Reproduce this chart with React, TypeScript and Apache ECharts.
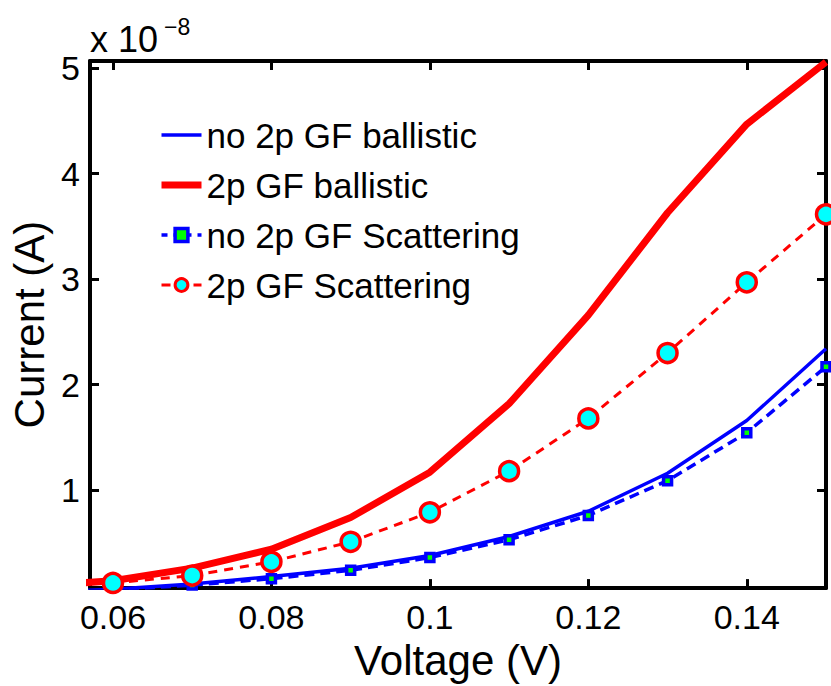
import React, { useEffect, useRef } from "react";
import * as echarts from "echarts";

// Voltage (V)
const voltsBallistic = [0.05, 0.06, 0.07, 0.08, 0.09, 0.1, 0.11, 0.12, 0.13, 0.14, 0.15];
const voltsScattering = [0.06, 0.07, 0.08, 0.09, 0.1, 0.11, 0.12, 0.13, 0.14, 0.15];

// Current in units of 1e-8 A
const noGfBallistic = [0.03, 0.06, 0.11, 0.18, 0.26, 0.38, 0.56, 0.8, 1.16, 1.66, 2.34];
const gfBallistic = [0.09, 0.14, 0.26, 0.44, 0.74, 1.17, 1.82, 2.66, 3.63, 4.47, 5.06];
const noGfScattering = [0.05, 0.1, 0.16, 0.24, 0.36, 0.53, 0.76, 1.09, 1.545, 2.17];
const gfScattering = [0.12, 0.19, 0.32, 0.51, 0.79, 1.18, 1.68, 2.3, 2.97, 3.615];

const seriesNames = [
  "no 2p GF ballistic",
  "2p GF ballistic",
  "no 2p GF Scattering",
  "2p GF Scattering",
];

const xRange = [0.0571, 0.15];
const yRange = [0.071, 5.069];

const pair = (xs: number[], ys: number[]) => xs.map((x, i) => [x, ys[i]]);

const FONT = "'Liberation Sans', Arial, Helvetica, sans-serif";

export default function App() {
  const ref = useRef<HTMLDivElement>(null);
  useEffect(() => {
    if (!ref.current) return;
    const chart = echarts.init(ref.current, null, { renderer: "svg" });
    const axisLine = { show: true, onZero: false, lineStyle: { color: "#000", width: 4 } };
    const axisTick = { show: true, inside: true, length: 9, lineStyle: { color: "#000", width: 3 } };
    const baseX = {
      type: "value" as const,
      min: xRange[0],
      max: xRange[1],
      minInterval: 0.02,
      maxInterval: 0.02,
      splitNumber: 5,
      axisLine,
      axisTick,
      splitLine: { show: false },
    };
    const baseY = {
      type: "value" as const,
      min: yRange[0],
      max: yRange[1],
      minInterval: 1,
      maxInterval: 1,
      splitNumber: 5,
      axisLine,
      axisTick,
      splitLine: { show: false },
    };
    chart.setOption({
      animation: false,
      backgroundColor: "#fff",
      textStyle: { fontFamily: FONT },
      grid: { left: 90, right: 5, top: 61, bottom: 94, containLabel: false },
      xAxis: [
        {
          ...baseX,
          position: "bottom",
          axisLabel: {
            showMinLabel: false,
            showMaxLabel: false,
            fontSize: 34,
            color: "#000",
            margin: 12,
            fontFamily: FONT,
          },
          name: "Voltage (V)",
          nameLocation: "middle",
          nameGap: 36,
          nameTextStyle: { fontSize: 42, color: "#000", fontFamily: FONT },
        },
        { ...baseX, position: "top", axisLabel: { show: false } },
      ],
      yAxis: [
        {
          ...baseY,
          position: "left",
          axisLabel: {
            showMinLabel: false,
            showMaxLabel: false,
            fontSize: 34,
            color: "#000",
            margin: 10,
            fontFamily: FONT,
          },
          name: "Current (A)",
          nameLocation: "middle",
          nameGap: 32,
          nameTextStyle: { fontSize: 42, color: "#000", fontFamily: FONT },
        },
        { ...baseY, position: "right", axisLabel: { show: false } },
      ],
      legend: {
        orient: "vertical",
        left: 158,
        top: 114,
        padding: 0,
        itemWidth: 40,
        itemHeight: 16,
        itemGap: 8,
        data: [
          { name: seriesNames[0], itemStyle: { opacity: 0 }, lineStyle: { width: 3.5, color: "#0000ff" } },
          { name: seriesNames[1], itemStyle: { opacity: 0 }, lineStyle: { width: 7, color: "#ff0000" } },
          {
            name: seriesNames[2],
            itemStyle: { borderWidth: 3.5, borderColor: "#0000ff", color: "#00ff00" },
            lineStyle: { width: 3.5, color: "#0000ff", type: [6, 6] },
          },
          {
            name: seriesNames[3],
            itemStyle: { borderWidth: 3, borderColor: "#ff0000", color: "#00ffff" },
            lineStyle: { width: 3, color: "#ff0000" },
          },
        ],
        textStyle: { fontSize: 35, color: "#000", lineHeight: 42, fontFamily: FONT },
      },
      graphic: [
        {
          type: "text",
          left: 90,
          top: 21,
          style: { text: "x 10", fontSize: 36, fill: "#000", fontFamily: FONT },
        },
        {
          type: "text",
          left: 164,
          top: 15,
          style: { text: "\u22128", fontSize: 23, fill: "#000", fontFamily: FONT },
        },
      ],
      series: [
        {
          name: seriesNames[0],
          type: "line",
          data: pair(voltsBallistic, noGfBallistic),
          symbol: "none",
          clip: true,
          lineStyle: { color: "#0000ff", width: 3.5 },
          itemStyle: { color: "#0000ff" },
        },
        {
          name: seriesNames[1],
          type: "line",
          data: pair(voltsBallistic, gfBallistic),
          symbol: "none",
          clip: true,
          lineStyle: { color: "#ff0000", width: 7 },
          itemStyle: { color: "#ff0000" },
        },
        {
          name: seriesNames[2],
          type: "line",
          data: pair(voltsScattering, noGfScattering),
          symbol: "rect",
          symbolSize: 8,
          showAllSymbol: true,
          clip: true,
          lineStyle: { color: "#0000ff", width: 3.5, type: [10, 6] },
          itemStyle: { color: "#00ff00", borderColor: "#0000ff", borderWidth: 3.5 },
        },
        {
          name: seriesNames[3],
          type: "line",
          data: pair(voltsScattering, gfScattering),
          symbol: "circle",
          symbolSize: 19,
          showAllSymbol: true,
          clip: true,
          lineStyle: { color: "#ff0000", width: 3, type: [9, 7] },
          itemStyle: { color: "#00ffff", borderColor: "#ff0000", borderWidth: 3.5 },
        },
      ],
    });
    return () => chart.dispose();
  }, []);
  return (
    <div
      ref={ref}
      style={{ position: "fixed", left: 0, top: 0, width: 831, height: 686, background: "#fff" }}
    />
  );
}
